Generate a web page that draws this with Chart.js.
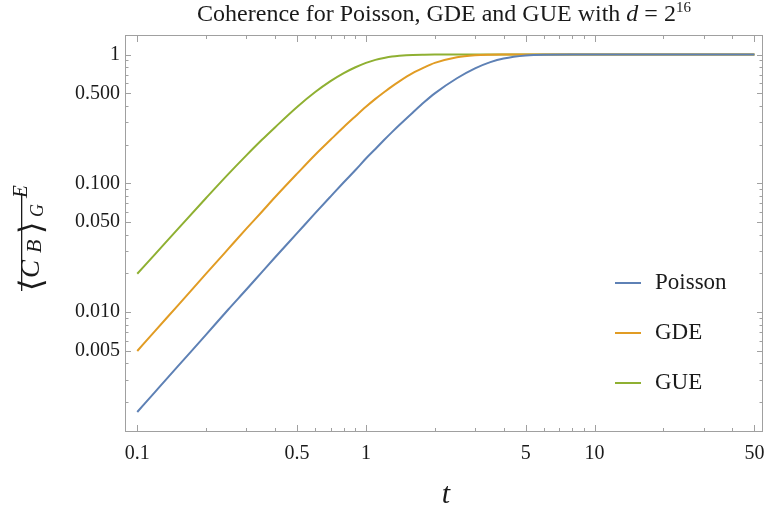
<!DOCTYPE html>
<html>
<head>
<meta charset="utf-8">
<script src="https://cdn.jsdelivr.net/npm/chart.js@4.4.0/dist/chart.umd.min.js"></script>
<style>
  html, body { margin: 0; padding: 0; background: #fff; }
  #wrap { width: 764px; height: 512px; }
</style>
</head>
<body>
<div id="wrap"><canvas id="c" width="764" height="512"></canvas></div>
<script>
// values (log-log)
const tValues = [0.1, 0.12, 0.15, 0.2, 0.25, 0.3, 0.35, 0.4, 0.5, 0.6, 0.7, 0.8, 0.9, 1,
                 1.1, 1.2, 1.3, 1.4, 1.6, 1.8, 2, 2.5, 3, 3.5, 4, 5, 6, 8, 10, 20, 50];
const poisson = [0.00168, 0.00242, 0.00378, 0.0067, 0.0105, 0.0150, 0.0204, 0.0266, 0.0411, 0.0587, 0.079, 0.102, 0.127, 0.156,
                 0.185, 0.217, 0.250, 0.284, 0.354, 0.428, 0.50, 0.655, 0.782, 0.874, 0.933, 0.985, 0.998, 1, 1, 1, 1];
const gde     = [0.0050, 0.0072, 0.0112, 0.0199, 0.0310, 0.0445, 0.060, 0.078, 0.119, 0.167, 0.218, 0.274, 0.332, 0.393,
                 0.453, 0.51, 0.567, 0.62, 0.717, 0.795, 0.862, 0.955, 0.989, 0.998, 0.9997, 1, 1, 1, 1, 1, 1];
const gue     = [0.0199, 0.0284, 0.0440, 0.0770, 0.118, 0.165, 0.217, 0.272, 0.392, 0.512, 0.622, 0.718, 0.797, 0.862,
                 0.910, 0.942, 0.966, 0.979, 0.994, 0.9985, 0.9997, 1, 1, 1, 1, 1, 1, 1, 1, 1, 1];

const seriesNames = ['Poisson', 'GDE', 'GUE'];
const seriesColors = ['#5E81B5', '#E19C24', '#8FB032'];

const xMajor = [0.1, 0.5, 1, 5, 10, 50];
const xMinor = [0.2, 0.3, 0.4, 0.6, 0.7, 0.8, 0.9, 2, 3, 4, 6, 7, 8, 9, 20, 30, 40];
const yMajor = [0.005, 0.01, 0.05, 0.1, 0.5, 1];
const yMinor = [0.002, 0.003, 0.004, 0.006, 0.007, 0.008, 0.009, 0.02, 0.03, 0.04, 0.06, 0.07, 0.08, 0.09,
                0.2, 0.3, 0.4, 0.6, 0.7, 0.8, 0.9];

const SERIF = '"Liberation Serif", "DejaVu Serif", serif';
const FRAME = '#a0a0a0';

const toPoints = arr => tValues.map((t, i) => ({ x: t, y: arr[i] }));
const allTicks = (maj, min) => maj.concat(min).sort((a, b) => a - b).map(v => ({ value: v }));

// frame, inward ticks, title, axis labels and legend
const decorations = {
  id: 'decorations',
  beforeDatasetsDraw(chart) {
    const { ctx, chartArea: a, scales: { x, y } } = chart;
    ctx.save();
    ctx.strokeStyle = FRAME;
    ctx.lineWidth = 1;
    ctx.strokeRect(a.left + 0.5, a.top + 0.5, a.right - a.left - 1, a.bottom - a.top - 1);
    ctx.beginPath();
    xMajor.concat(xMinor).forEach(v => {
      const px = Math.round(x.getPixelForValue(v)) + 0.5;
      const len = xMajor.includes(v) ? 7 : 4;
      ctx.moveTo(px, a.bottom); ctx.lineTo(px, a.bottom - len);
      ctx.moveTo(px, a.top); ctx.lineTo(px, a.top + len);
    });
    yMajor.concat(yMinor).forEach(v => {
      const py = Math.round(y.getPixelForValue(v)) + 0.5;
      const len = yMajor.includes(v) ? 6 : 3.5;
      ctx.moveTo(a.left, py); ctx.lineTo(a.left + len, py);
      ctx.moveTo(a.right, py); ctx.lineTo(a.right - len, py);
    });
    ctx.stroke();
    ctx.restore();
  },
  afterDraw(chart) {
    const { ctx, chartArea: a } = chart;
    ctx.save();
    ctx.fillStyle = '#1a1a1a';
    ctx.textBaseline = 'alphabetic';

    // title
    const cx = (a.left + a.right) / 2;
    const pieces = [
      ['Coherence for Poisson, GDE and GUE with ', '24px ' + SERIF, 0],
      ['d', 'italic 24px ' + SERIF, 0],
      [' = 2', '24px ' + SERIF, 0],
      ['16', '15px ' + SERIF, -9]
    ];
    let w = 0;
    pieces.forEach(p => { ctx.font = p[1]; w += ctx.measureText(p[0]).width; });
    let u = cx - w / 2;
    pieces.forEach(p => { ctx.font = p[1]; ctx.fillText(p[0], u, 21 + p[2]); u += ctx.measureText(p[0]).width; });

    // x axis label
    ctx.font = 'italic 30px ' + SERIF;
    ctx.textAlign = 'center';
    ctx.fillText('t', cx + 2, 503);
    ctx.textAlign = 'left';

    // y axis label, rotated
    ctx.save();
    ctx.translate(39, 291);
    ctx.rotate(-Math.PI / 2);
    const yl = [
      ['\u27E8', '32px "DejaVu Serif", serif', 0, 3],
      ['C', 'italic 27px ' + SERIF, 13, 0],
      ['B', 'italic 22px ' + SERIF, 38, 2],
      ['\u27E9', '32px "DejaVu Serif", serif', 57, 3],
      ['G', 'italic 18px ' + SERIF, 74, 4],
      ['E', 'italic 21px ' + SERIF, 93, -12]
    ];
    yl.forEach(p => { ctx.font = p[1]; ctx.fillText(p[0], p[2], p[3]); });
    ctx.fillRect(0, -18, 98, 1.3);
    ctx.restore();

    // legend
    const ly = [283, 333, 383];
    chart.data.datasets.forEach((ds, i) => {
      ctx.strokeStyle = ds.borderColor;
      ctx.lineWidth = 2;
      ctx.beginPath();
      ctx.moveTo(615, ly[i]); ctx.lineTo(641, ly[i]);
      ctx.stroke();
      ctx.font = '23px ' + SERIF;
      ctx.fillText(ds.label, 655, ly[i] + 5.5);
    });
    ctx.restore();
  }
};

new Chart(document.getElementById('c'), {
  type: 'line',
  data: {
    datasets: [poisson, gde, gue].map((arr, i) => ({
      label: seriesNames[i],
      data: toPoints(arr),
      borderColor: seriesColors[i],
      borderWidth: 2,
      pointRadius: 0,
      fill: false,
      cubicInterpolationMode: 'monotone'
    }))
  },
  options: {
    responsive: false,
    animation: false,
    events: [],
    layout: { padding: { top: 35, right: 1, left: 0, bottom: 0 } },
    plugins: { legend: { display: false }, title: { display: false }, tooltip: { enabled: false } },
    scales: {
      x: {
        type: 'logarithmic',
        min: 0.08838,
        max: 54.5,
        grid: { display: false, drawTicks: false },
        border: { display: false },
        afterBuildTicks: s => { s.ticks = allTicks(xMajor, xMinor); },
        afterFit: s => { s.height = 80; s.paddingLeft = 0; s.paddingRight = 0; },
        ticks: {
          autoSkip: false,
          maxRotation: 0,
          padding: 10,
          color: '#1a1a1a',
          font: { family: SERIF, size: 20 },
          callback: v => xMajor.includes(v) ? String(v) : ''
        }
      },
      y: {
        type: 'logarithmic',
        min: 0.001175,
        max: 1.419,
        grid: { display: false, drawTicks: false },
        border: { display: false },
        afterBuildTicks: s => { s.ticks = allTicks(yMajor, yMinor); },
        afterFit: s => { s.width = 125; s.paddingTop = 0; s.paddingBottom = 0; },
        ticks: {
          autoSkip: false,
          padding: 5,
          color: '#1a1a1a',
          font: { family: SERIF, size: 20 },
          callback: v => yMajor.includes(v) ? (v >= 1 ? '1' : v.toFixed(3)) : ''
        }
      }
    }
  },
  plugins: [decorations]
});
</script>
</body>
</html>
